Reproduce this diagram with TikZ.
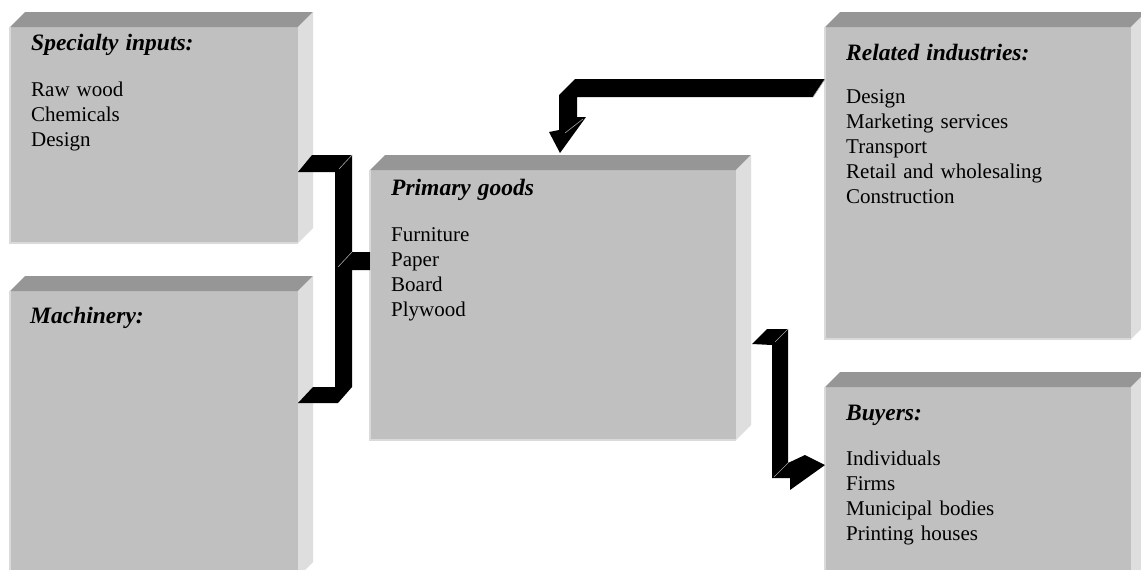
\documentclass[tikz,border=0pt]{standalone}
\usepackage{fontspec}
\setmainfont{Liberation Serif}
\usepackage{tikz}
\usetikzlibrary{positioning, calc}

\definecolor{facegray}{RGB}{192,192,192}
\definecolor{topgray}{RGB}{150,150,150}
\definecolor{sidegray}{RGB}{222,222,222}
\definecolor{edgegray}{RGB}{218,218,218}
\newcommand{\hdfont}{\fontsize{23.5}{24.8}\selectfont\bfseries\itshape}

\begin{document}
\begin{tikzpicture}[
        x=1pt, y=-1pt,
        panel/.style={rectangle, fill=facegray, inner sep=0pt, outer sep=0pt, anchor=north west},
        bevtop/.style={fill=topgray},
        bevside/.style={fill=sidegray},
        rim/.style={draw=edgegray, line width=1.2pt},
        boxtext/.style={anchor=base west, inner sep=0pt, text width=290pt, align=left, font=\fontsize{21}{24.8}\selectfont},
        flow/.style={fill=black},
        shine/.style={draw=gray!70, line width=0.6pt}
    ]
    \clip (0,0) rectangle (1141,570);
    \fill[white] (0,0) rectangle (1141,570);

    % boxes
    \node (spec) [panel, minimum width=288pt, minimum height=216pt] at (10,27) {};
    \node (mach) [panel, minimum width=288pt, minimum height=286pt] at (10,291) {};
    \node (prim) [panel, minimum width=366pt, minimum height=270pt] at (370,170) {};
    \node (rel) [panel, minimum width=306pt, minimum height=312pt] at (825,27) {};
    \node (buy) [panel, minimum width=306pt, minimum height=198pt] at (825,387) {};

    % bevels
    \foreach \b in {spec,mach,prim,rel,buy}{
        \fill[bevtop] (\b.north west) -- ++(15,-15) -- ([shift={(15,-15)}]\b.north east) -- (\b.north east) -- cycle;
        \fill[bevside] (\b.north east) -- ++(15,-15) -- ([shift={(15,-15)}]\b.south east) -- (\b.south east) -- cycle;
        \draw[rim] (\b.north west) -- (\b.south west) -- (\b.south east);
    }

    % texts
    \node (spec-txt) [boxtext] at ([shift={(21,23)}]spec.north west)
        {{\hdfont Specialty inputs:}\\[22pt] Raw wood\\ Chemicals\\ Design};
    \node (mach-txt) [boxtext] at ([shift={(20,32)}]mach.north west)
        {{\hdfont Machinery:}};
    \node (prim-txt) [boxtext] at ([shift={(21,25)}]prim.north west)
        {{\hdfont Primary goods}\\[22pt] Furniture\\ Paper\\ Board\\ Plywood};
    \node (rel-txt) [boxtext] at ([shift={(21,33)}]rel.north west)
        {{\hdfont Related industries:}\\[19pt] Design\\ Marketing services\\ Transport\\ Retail and wholesaling\\ Construction};
    \node (buy-txt) [boxtext] at ([shift={(21,33)}]buy.north west)
        {{\hdfont Buyers:}\\[21pt] Individuals\\ Firms\\ Municipal bodies\\ Printing houses};

    % bracket: inputs and machinery into primary goods
    \fill[flow] (spec.east |- 0,172) -- (312,155) -- (352,155) -- (352,252) -- (prim.west |- 0,252)
        -- (prim.west |- 0,270) -- (352,270) -- (352,387) -- (338,403) -- (mach.east |- 0,403)
        -- (313,387) -- (335,387) -- (335,172) -- cycle;
    \draw[shine] (352,155) -- (339,169);
    \draw[shine] (352,252) -- (338,267);

    % related industries into primary goods
    \fill[flow] (rel.west |- 0,79) -- (575,79) -- (559,95) -- (559,130) -- (549,132)
        -- (560,153) -- (586,117) -- (577,117) -- (577,97) -- (813,97) -- cycle;
    \draw[shine] (rel.west |- 0,79) -- (813,97);
    \draw[shine] (583,119) -- (565,133);

    % primary goods to buyers
    \fill[flow] (752,344) -- (767,329) -- (788,329) -- (788,463) -- (805,455) -- (buy.west |- 0,465)
        -- (790,490) -- (790,478) -- (772,478) -- (772,345) -- cycle;
    \draw[shine] (788,329) -- (775,342);
    \draw[shine] (788,463) -- (774,477);
\end{tikzpicture}
\end{document}
